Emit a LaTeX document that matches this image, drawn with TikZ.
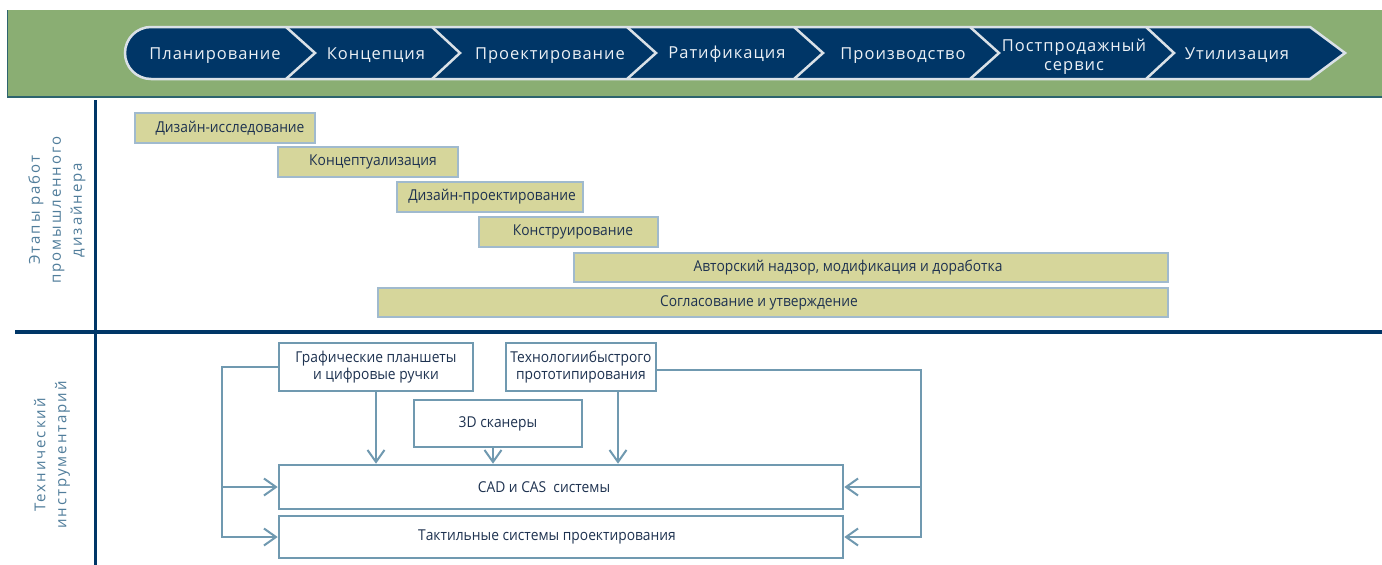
\documentclass[tikz,border=0pt]{standalone}
\usepackage{fontspec}
\setmainfont{Open Sans}
\newfontfamily\chainfont[LetterSpace=6]{Open Sans}
\newfontfamily\boxfont[FakeStretch=0.92]{Open Sans}
\newfontfamily\sidefont[LetterSpace=13]{Open Sans}
\usetikzlibrary{arrows.meta}
\definecolor{band}{RGB}{138,174,115}
\definecolor{bandline}{RGB}{45,100,110}
\definecolor{navy}{RGB}{0,54,103}
\definecolor{chainline}{RGB}{218,225,231}
\definecolor{chaintext}{RGB}{235,240,245}
\definecolor{olive}{RGB}{214,214,155}
\definecolor{oliveline}{RGB}{160,186,206}
\definecolor{steel}{RGB}{112,153,176}
\definecolor{sidetext}{RGB}{80,125,155}
\definecolor{boxtext}{RGB}{30,50,80}
\tikzset{
  chaintxt/.style={text=chaintext, font=\chainfont\fontsize{16.5}{19}\selectfont, align=center, inner sep=0pt},
  sidelabel/.style={rotate=90, align=center, text=sidetext, font=\sidefont\fontsize{15}{21}\selectfont, inner sep=0pt},
  stagebox/.style={draw=oliveline, fill=olive, line width=1.5pt, inner sep=0pt, minimum height=30pt},
  stagetxt/.style={text=boxtext, font=\boxfont\fontsize{15}{18}\selectfont, inner sep=0pt},
  toolbox/.style={draw=steel, fill=white, line width=2.6pt, inner sep=0pt, align=center,
    text=boxtext, font=\boxfont\fontsize{15}{17.5}\selectfont},
  conn/.style={draw=steel, line width=2pt, -{Straight Barb[length=12pt,width=17pt]}},
}
\begin{document}
\begin{tikzpicture}[x=1pt,y=-1pt]
\useasboundingbox (0,0) rectangle (1382,565);
\fill[white] (0,0) rectangle (1382,565);
% top band
\fill[band] (7,10) rectangle (1382,97);
\draw[bandline, line width=1.2pt] (7.6,10) -- (7.6,97) -- (1382,97);
% chain
\path[fill=navy, draw=chainline, line width=2.5pt]
  (151,79) arc[start angle=270, end angle=90, radius=26pt] -- (1310,27) -- (1345,53) -- (1310,79) -- cycle;
\foreach \b/\t in {286/315, 432/460, 627/656, 794/823, 970/999, 1146/1174}
  \draw[chainline, line width=2.5pt] (\b,27) -- (\t,53) -- (\b,79);
\node[chaintxt, anchor=base] (c1) at (215,59) {Планирование};
\node[chaintxt, anchor=base] (c2) at (376,59) {Концепция};
\node[chaintxt, anchor=base] (c3) at (550,59) {Проектирование};
\node[chaintxt, anchor=base] (c4) at (727,58) {Ратификация};
\node[chaintxt, anchor=base] (c5) at (903,59) {Производство};
\node[chaintxt] (c6) at (1074,56.5) {Постпродажный\\сервис};
\node[chaintxt, anchor=base] (c7) at (1237,59) {Утилизация};
% separators
\draw[navy, line width=3pt] (95,100) -- (95,565);
\draw[navy, line width=3.5pt] (15,332) -- (1382,332);
% side labels
\node[sidelabel] (lab1) at (57,210) {Этапы работ\\промышленного\\дизайнера};
\node[sidelabel] (lab2) at (52,455) {Технический\\инструментарий};
% stages
\node[stagebox, minimum width=180pt] (s1) at (225,128) {};
\node[stagetxt] (t1) at (230,128) {Дизайн-исследование};
\node[stagebox, minimum width=180pt] (s2) at (368,162) {};
\node[stagetxt] (t2) at (373,162) {Концептуализация};
\node[stagebox, minimum width=186pt] (s3) at (490,197) {};
\node[stagetxt] (t3) at (492,197) {Дизайн-проектирование};
\node[stagebox, minimum width=179pt] (s4) at (568.5,232) {};
\node[stagetxt] (t4) at (573,232) {Конструирование};
\node[stagebox, minimum width=594pt, minimum height=29pt] (s5) at (871,267.5) {};
\node[stagetxt] (t5) at (848,267.5) {Авторский надзор, модификация и доработка};
\node[stagebox, minimum width=790pt, minimum height=29pt] (s6) at (773,302.5) {};
\node[stagetxt] (t6) at (759,302.5) {Согласование и утверждение};
% tools
\node[toolbox, minimum width=194pt, minimum height=48pt] (g) at (376,367) {Графические планшеты\\и цифровые ручки};
\node[toolbox, minimum width=150pt, minimum height=48pt] (tp) at (581,367) {Технологиибыстрого\\прототипирования};
\node[toolbox, minimum width=168pt, minimum height=47pt] (sc) at (498,423.5) {3D сканеры};
\node[toolbox, minimum width=564pt, minimum height=44pt] (cad) at (561,487) {};
\node[stagetxt] (cadt) at (544,487) {CAD и CAS\ \ системы};
\node[toolbox, minimum width=564pt, minimum height=42pt] (tac) at (561,537) {};
\node[stagetxt] (tact) at (547,537) {Тактильные системы проектирования};
% connectors
\draw[conn] (g.south) -- (g.south |- cad.north);
\draw[conn] ([xshift=-5pt]sc.south) -- ([xshift=-5pt]sc.south |- cad.north);
\draw[conn] ([xshift=37pt]tp.south) -- ([xshift=37pt]tp.south |- cad.north);
\coordinate (lb) at (222,367);
\coordinate (rb) at (921,370);
\draw[conn] (g.west) -- (lb) |- (tac.west);
\draw[conn] (lb |- cad.west) -- (cad.west);
\draw[conn] (tp.east |- rb) -- (rb) |- (tac.east);
\draw[conn] (rb |- cad.east) -- (cad.east);
\end{tikzpicture}
\end{document}
